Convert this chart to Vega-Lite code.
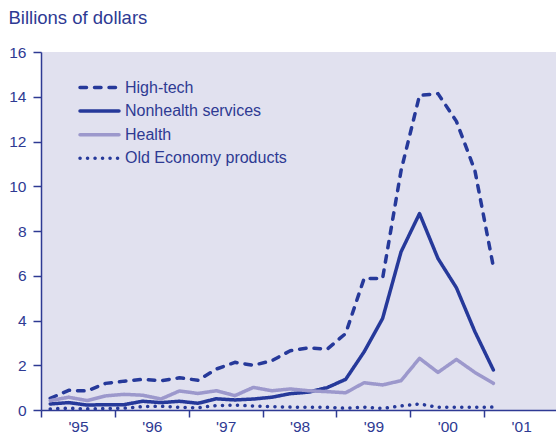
{
  "$schema": "https://vega.github.io/schema/vega-lite/v6.json",
  "width": 517,
  "height": 358,
  "autosize": "none",
  "padding": {"left": 41, "top": 52, "right": 0, "bottom": 26},
  "background": "white",
  "config": {
    "font": "Liberation Sans",
    "view": {"fill": "#E1E1EF", "stroke": null}
  },
  "data": {
    "values": [
      {"t": 1995.125, "series": "High-tech", "v": 0.52},
      {"t": 1995.375, "series": "High-tech", "v": 0.88},
      {"t": 1995.625, "series": "High-tech", "v": 0.85},
      {"t": 1995.875, "series": "High-tech", "v": 1.19},
      {"t": 1996.125, "series": "High-tech", "v": 1.29},
      {"t": 1996.375, "series": "High-tech", "v": 1.37},
      {"t": 1996.625, "series": "High-tech", "v": 1.31},
      {"t": 1996.875, "series": "High-tech", "v": 1.44},
      {"t": 1997.125, "series": "High-tech", "v": 1.33},
      {"t": 1997.375, "series": "High-tech", "v": 1.83},
      {"t": 1997.625, "series": "High-tech", "v": 2.13},
      {"t": 1997.875, "series": "High-tech", "v": 2.0},
      {"t": 1998.125, "series": "High-tech", "v": 2.2},
      {"t": 1998.375, "series": "High-tech", "v": 2.65},
      {"t": 1998.625, "series": "High-tech", "v": 2.78},
      {"t": 1998.875, "series": "High-tech", "v": 2.72},
      {"t": 1999.125, "series": "High-tech", "v": 3.42},
      {"t": 1999.375, "series": "High-tech", "v": 5.88},
      {"t": 1999.625, "series": "High-tech", "v": 5.88},
      {"t": 1999.875, "series": "High-tech", "v": 10.7},
      {"t": 2000.125, "series": "High-tech", "v": 14.06},
      {"t": 2000.375, "series": "High-tech", "v": 14.14},
      {"t": 2000.625, "series": "High-tech", "v": 12.9},
      {"t": 2000.875, "series": "High-tech", "v": 10.7},
      {"t": 2001.125, "series": "High-tech", "v": 6.4},
      {"t": 1995.125, "series": "Nonhealth services", "v": 0.27},
      {"t": 1995.375, "series": "Nonhealth services", "v": 0.33},
      {"t": 1995.625, "series": "Nonhealth services", "v": 0.22},
      {"t": 1995.875, "series": "Nonhealth services", "v": 0.24},
      {"t": 1996.125, "series": "Nonhealth services", "v": 0.24},
      {"t": 1996.375, "series": "Nonhealth services", "v": 0.39},
      {"t": 1996.625, "series": "Nonhealth services", "v": 0.33},
      {"t": 1996.875, "series": "Nonhealth services", "v": 0.39},
      {"t": 1997.125, "series": "Nonhealth services", "v": 0.3},
      {"t": 1997.375, "series": "Nonhealth services", "v": 0.5},
      {"t": 1997.625, "series": "Nonhealth services", "v": 0.45},
      {"t": 1997.875, "series": "Nonhealth services", "v": 0.49},
      {"t": 1998.125, "series": "Nonhealth services", "v": 0.57},
      {"t": 1998.375, "series": "Nonhealth services", "v": 0.73},
      {"t": 1998.625, "series": "Nonhealth services", "v": 0.8},
      {"t": 1998.875, "series": "Nonhealth services", "v": 1.0},
      {"t": 1999.125, "series": "Nonhealth services", "v": 1.37},
      {"t": 1999.375, "series": "Nonhealth services", "v": 2.6},
      {"t": 1999.625, "series": "Nonhealth services", "v": 4.09},
      {"t": 1999.875, "series": "Nonhealth services", "v": 7.07},
      {"t": 2000.125, "series": "Nonhealth services", "v": 8.78},
      {"t": 2000.375, "series": "Nonhealth services", "v": 6.77},
      {"t": 2000.625, "series": "Nonhealth services", "v": 5.46},
      {"t": 2000.875, "series": "Nonhealth services", "v": 3.5},
      {"t": 2001.125, "series": "Nonhealth services", "v": 1.79},
      {"t": 1995.125, "series": "Health", "v": 0.42},
      {"t": 1995.375, "series": "Health", "v": 0.57},
      {"t": 1995.625, "series": "Health", "v": 0.42},
      {"t": 1995.875, "series": "Health", "v": 0.63},
      {"t": 1996.125, "series": "Health", "v": 0.7},
      {"t": 1996.375, "series": "Health", "v": 0.66},
      {"t": 1996.625, "series": "Health", "v": 0.49},
      {"t": 1996.875, "series": "Health", "v": 0.85},
      {"t": 1997.125, "series": "Health", "v": 0.74},
      {"t": 1997.375, "series": "Health", "v": 0.86},
      {"t": 1997.625, "series": "Health", "v": 0.64},
      {"t": 1997.875, "series": "Health", "v": 1.01},
      {"t": 1998.125, "series": "Health", "v": 0.86},
      {"t": 1998.375, "series": "Health", "v": 0.94},
      {"t": 1998.625, "series": "Health", "v": 0.86},
      {"t": 1998.875, "series": "Health", "v": 0.82},
      {"t": 1999.125, "series": "Health", "v": 0.77},
      {"t": 1999.375, "series": "Health", "v": 1.22},
      {"t": 1999.625, "series": "Health", "v": 1.12},
      {"t": 1999.875, "series": "Health", "v": 1.31},
      {"t": 2000.125, "series": "Health", "v": 2.31},
      {"t": 2000.375, "series": "Health", "v": 1.68},
      {"t": 2000.625, "series": "Health", "v": 2.26},
      {"t": 2000.875, "series": "Health", "v": 1.68},
      {"t": 2001.125, "series": "Health", "v": 1.19},
      {"t": 1995.125, "series": "Old Economy products", "v": 0.05},
      {"t": 1995.375, "series": "Old Economy products", "v": 0.08},
      {"t": 1995.625, "series": "Old Economy products", "v": 0.05},
      {"t": 1995.875, "series": "Old Economy products", "v": 0.07},
      {"t": 1996.125, "series": "Old Economy products", "v": 0.08},
      {"t": 1996.375, "series": "Old Economy products", "v": 0.15},
      {"t": 1996.625, "series": "Old Economy products", "v": 0.17},
      {"t": 1996.875, "series": "Old Economy products", "v": 0.12},
      {"t": 1997.125, "series": "Old Economy products", "v": 0.1},
      {"t": 1997.375, "series": "Old Economy products", "v": 0.2},
      {"t": 1997.625, "series": "Old Economy products", "v": 0.22},
      {"t": 1997.875, "series": "Old Economy products", "v": 0.18},
      {"t": 1998.125, "series": "Old Economy products", "v": 0.15},
      {"t": 1998.375, "series": "Old Economy products", "v": 0.13},
      {"t": 1998.625, "series": "Old Economy products", "v": 0.12},
      {"t": 1998.875, "series": "Old Economy products", "v": 0.12},
      {"t": 1999.125, "series": "Old Economy products", "v": 0.08},
      {"t": 1999.375, "series": "Old Economy products", "v": 0.13},
      {"t": 1999.625, "series": "Old Economy products", "v": 0.07},
      {"t": 1999.875, "series": "Old Economy products", "v": 0.18},
      {"t": 2000.125, "series": "Old Economy products", "v": 0.27},
      {"t": 2000.375, "series": "Old Economy products", "v": 0.12},
      {"t": 2000.625, "series": "Old Economy products", "v": 0.12},
      {"t": 2000.875, "series": "Old Economy products", "v": 0.12},
      {"t": 2001.125, "series": "Old Economy products", "v": 0.13}
    ]
  },
  "mark": {"type": "line", "strokeWidth": 3.5, "strokeCap": "round", "strokeJoin": "round", "clip": true},
  "encoding": {
    "x": {
      "field": "t",
      "type": "quantitative",
      "scale": {"domain": [1995, 2002], "nice": false, "zero": false},
      "axis": {
        "title": null,
        "values": [1995, 1996, 1997, 1998, 1999, 2000, 2001],
        "grid": false,
        "tickSize": 7,
        "tickWidth": 1.5,
        "tickColor": "#2E3A93",
        "domainColor": "#2E3A93",
        "domainWidth": 1.5,
        "labelColor": "#2E3A93",
        "labelFontSize": 15.5,
        "labelOffset": 37,
        "labelPadding": 2,
        "labelFlush": false,
        "labelOverlap": false,
        "labelExpr": "\"'\" + substring(toString(datum.value), 2)"
      }
    },
    "y": {
      "field": "v",
      "type": "quantitative",
      "scale": {"domain": [0, 16], "nice": false},
      "axis": {
        "title": "Billions of dollars",
        "titleAngle": 0,
        "titleAlign": "left",
        "titleBaseline": "alphabetic",
        "titleX": -33,
        "titleY": -29,
        "titleFontSize": 18.5,
        "titleFontWeight": "normal",
        "titleColor": "#2E3A93",
        "values": [0, 2, 4, 6, 8, 10, 12, 14, 16],
        "grid": false,
        "tickSize": 8,
        "tickWidth": 1.5,
        "tickColor": "#2E3A93",
        "domainColor": "#2E3A93",
        "domainWidth": 1.5,
        "labelColor": "#2E3A93",
        "labelFontSize": 15.5,
        "labelPadding": 7
      }
    },
    "color": {
      "field": "series",
      "type": "nominal",
      "scale": {
        "domain": ["High-tech", "Nonhealth services", "Health", "Old Economy products"],
        "range": ["#26399A", "#26399A", "#9C98CC", "#26399A"]
      },
      "legend": {
        "title": null,
        "orient": "none",
        "legendX": 47,
        "legendY": 24,
        "symbolType": "M-2,0H2",
        "symbolSize": 380,
        "symbolStrokeWidth": 3.5,
        "labelFontSize": 16,
        "labelLimit": 0,
        "labelColor": "#2E3A93",
        "labelOffset": 14,
        "rowPadding": 3.6,
        "encode": {"symbols": {"update": {"strokeCap": {"value": "round"}}}}
      }
    },
    "strokeDash": {
      "field": "series",
      "type": "nominal",
      "scale": {
        "domain": ["High-tech", "Nonhealth services", "Health", "Old Economy products"],
        "range": [[6.5, 8], [1, 0], [1, 0], [0.1, 7.4]]
      },
      "legend": {
        "title": null,
        "orient": "none",
        "legendX": 47,
        "legendY": 24,
        "symbolType": "M-2,0H2",
        "symbolSize": 380,
        "symbolStrokeWidth": 3.5,
        "labelFontSize": 16,
        "labelLimit": 0,
        "labelColor": "#2E3A93",
        "labelOffset": 14,
        "rowPadding": 3.6,
        "encode": {"symbols": {"update": {"strokeCap": {"value": "round"}}}}
      }
    }
  }
}
